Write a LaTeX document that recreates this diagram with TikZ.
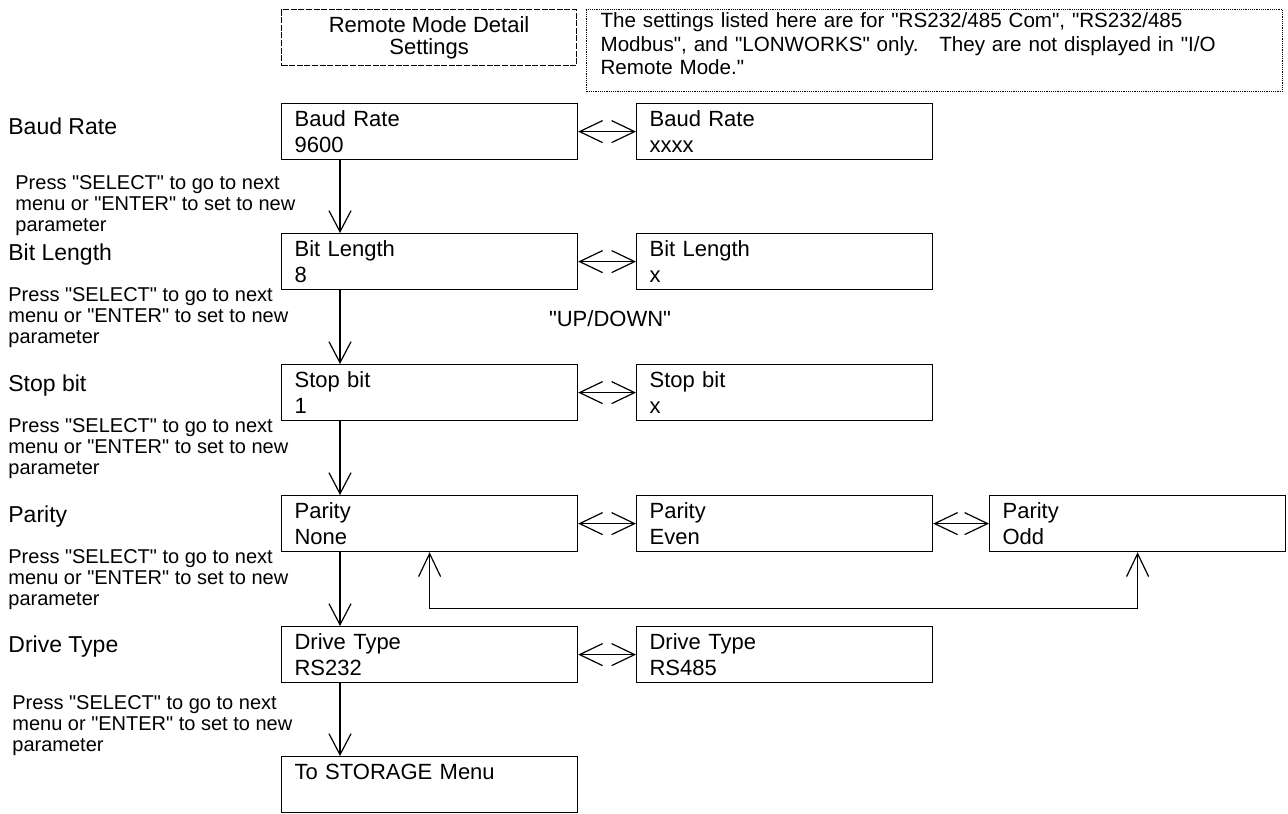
\documentclass[tikz,border=0pt]{standalone}
\usepackage{fontspec}
\setmainfont{Liberation Sans}[Ligatures=TeXOff]
\usetikzlibrary{arrows.meta,positioning}

\begin{document}
\begin{tikzpicture}[x=0.5pt,y=-0.5pt,
    menubox/.style={draw,line width=0.6pt,anchor=north west,
      minimum width=148pt,minimum height=28pt,inner xsep=6.5pt,inner ysep=0pt,
      text width=135pt,align=left,font=\fontsize{11}{13}\selectfont},
    sidelabel/.style={anchor=west,inner sep=0pt,font=\fontsize{11.5}{13}\selectfont},
    hint/.style={anchor=north west,inner sep=0pt,align=left,
      font=\fontsize{10}{10.5}\selectfont},
    barb/.style={line width=0.6pt,-{Straight Barb[length=10.5pt,width=11pt]}},
    dbarb/.style={line width=0.6pt,
      {Straight Barb[length=11.5pt,width=11pt]}-{Straight Barb[length=11.5pt,width=11pt]}}]

  \useasboundingbox (0,0) rectangle (1288,813);

  % --- header boxes ---
  \node[draw,line width=0.6pt,dash pattern=on 3pt off 0.8pt,anchor=north west,
        minimum width=147.5pt,minimum height=28pt,inner sep=0pt,align=center,
        font=\fontsize{11}{11.2}\selectfont] (hd) at (281,9)
        {Remote Mode Detail\\Settings};
  \node[draw,line width=0.6pt,dash pattern=on 0.6pt off 0.5pt,anchor=north west,
        minimum width=348pt,minimum height=41pt,inner xsep=7pt,inner ysep=0pt,
        text width=334pt,align=left,
        font=\fontsize{10.3}{11.6}\selectfont] (nt) at (586,9)
        {The settings listed here are for "RS232/485 Com", "RS232/485\\
         Modbus", and "LONWORKS" only.\ \ \ They are not displayed in "I/O\\
         Remote Mode."\rule[-7pt]{0pt}{0pt}};

  % --- menu boxes ---
  \node[menubox] (br)  at (281,103) {Baud Rate\\9600};
  \node[menubox] (brx) at (636,103) {Baud Rate\\xxxx};
  \node[menubox] (bl)  at (281,233) {Bit Length\\8};
  \node[menubox] (blx) at (636,233) {Bit Length\\x};
  \node[menubox] (sb)  at (281,364) {Stop bit\\1};
  \node[menubox] (sbx) at (636,364) {Stop bit\\x};
  \node[menubox] (pn)  at (281,495) {Parity\\None};
  \node[menubox] (pe)  at (636,495) {Parity\\Even};
  \node[menubox] (po)  at (989,495) {Parity\\Odd};
  \node[menubox] (dt)  at (281,626) {Drive Type\\RS232};
  \node[menubox] (dtx) at (636,626) {Drive Type\\RS485};
  \node[menubox] (st)  at (281,756) {To STORAGE Menu\\\phantom{X}};

  % --- left column ---
  \node[sidelabel] (lbr) at (8,126) {Baud Rate};
  \node[sidelabel] (lbl) at (8,255) {Bit Length};
  \node[sidelabel] (lsb) at (8,386) {Stop bit};
  \node[sidelabel] (lpa) at (8,517) {Parity};
  \node[sidelabel] (ldt) at (8,647) {Drive Type};

  \node[hint] (h1) at (15,175)
    {Press "SELECT" to go to next\\menu or "ENTER" to set to new\\parameter};
  \node[hint] (h2) at (8,287)
    {Press "SELECT" to go to next\\menu or "ENTER" to set to new\\parameter};
  \node[hint] (h3) at (8,418)
    {Press "SELECT" to go to next\\menu or "ENTER" to set to new\\parameter};
  \node[hint] (h4) at (8,549)
    {Press "SELECT" to go to next\\menu or "ENTER" to set to new\\parameter};
  \node[hint] (h5) at (12,695)
    {Press "SELECT" to go to next\\menu or "ENTER" to set to new\\parameter};

  \node[font=\fontsize{11}{13}\selectfont] (ud) at (610,319) {"UP/DOWN"};

  % --- SELECT arrows ---
  \draw[barb] ([xshift=29.5pt]br.south west) -- ([xshift=29.5pt]bl.north west);
  \draw[barb] ([xshift=29.5pt]bl.south west) -- ([xshift=29.5pt]sb.north west);
  \draw[barb] ([xshift=29.5pt]sb.south west) -- ([xshift=29.5pt]pn.north west);
  \draw[barb] ([xshift=29.5pt]pn.south west) -- ([xshift=29.5pt]dt.north west);
  \draw[barb] ([xshift=29.5pt]dt.south west) -- ([xshift=29.5pt]st.north west);

  % --- UP/DOWN arrows ---
  \draw[dbarb] (br.east) -- (brx.west);
  \draw[dbarb] (bl.east) -- (blx.west);
  \draw[dbarb] (sb.east) -- (sbx.west);
  \draw[dbarb] (pn.east) -- (pe.west);
  \draw[dbarb] (pe.east) -- (po.west);
  \draw[dbarb] (dt.east) -- (dtx.west);

  % wrap-around Odd <-> None
  \draw[dbarb] (pn.south) -- ++(0,56) -| (po.south);

\end{tikzpicture}
\end{document}
